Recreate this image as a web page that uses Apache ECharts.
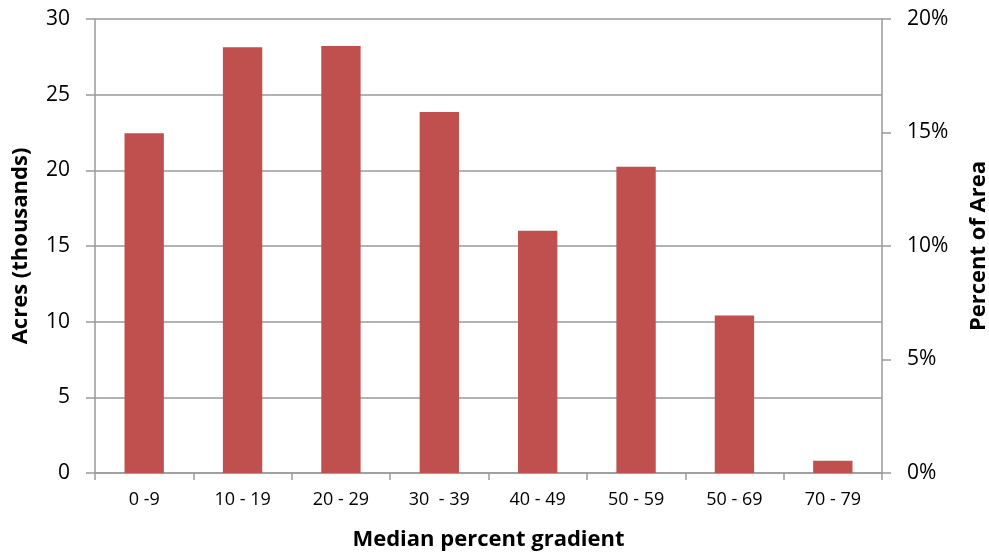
<!DOCTYPE html>
<html>
<head>
<meta charset="utf-8">
<title>Median percent gradient</title>
<script src="https://cdn.jsdelivr.net/npm/echarts@6/dist/echarts.min.js"></script>
<style>
  html, body { margin: 0; padding: 0; background: #ffffff; }
  #chart { width: 989px; height: 552px; }
</style>
</head>
<body>
<div id="chart"></div>
<script>
// Gradient classes along the x axis
const categories = ['0 -9', '10 - 19', '20 - 29', '30  - 39', '40 - 49', '50 - 59', '50 - 69', '70 - 79'];
// Acreage per gradient class, in thousands of acres
const acres = [22.45, 28.13, 28.22, 23.86, 16.0, 20.24, 10.4, 0.81];
// Left axis range (thousands of acres) and right axis range (percent of area)
const acresAxis = { min: 0, max: 30, interval: 5 };
const percentAxis = { min: 0, max: 20, interval: 5 };

const FONT = '"Open Sans", "DejaVu Sans", sans-serif';
const GREY = '#9a9a9a';
const BAR = '#C0504D';

const chart = echarts.init(document.getElementById('chart'), null, { renderer: 'canvas' });

chart.setOption({
  animation: false,
  backgroundColor: '#ffffff',
  textStyle: { fontFamily: FONT, color: '#000' },
  grid: { left: 95, right: 107, top: 19, bottom: 79, containLabel: false, outerBoundsMode: 'none' },
  xAxis: {
    type: 'category',
    data: categories,
    name: 'Median percent gradient',
    nameLocation: 'middle',
    nameGap: 56,
    nameMoveOverlap: false,
    nameTextStyle: { fontFamily: FONT, fontSize: 22, fontWeight: 'bold', color: '#000' },
    axisLine: { show: true, lineStyle: { color: GREY, width: 1.5 } },
    axisTick: { show: true, length: 7, lineStyle: { color: GREY, width: 1.5 } },
    axisLabel: { fontFamily: FONT, fontSize: 18, color: '#000', margin: 18, interval: 0 },
    splitLine: { show: false }
  },
  yAxis: [
    {
      type: 'value',
      position: 'left',
      min: acresAxis.min,
      max: acresAxis.max,
      interval: acresAxis.interval,
      name: 'Acres (thousands)',
      nameLocation: 'middle',
      nameRotate: 90,
      nameGap: 63,
      nameMoveOverlap: false,
      nameTextStyle: { fontFamily: FONT, fontSize: 22, fontWeight: 'bold', color: '#000' },
      axisLine: { show: true, lineStyle: { color: GREY, width: 1.5 } },
      axisTick: { show: true, length: 9, lineStyle: { color: GREY, width: 1.5 } },
      axisLabel: { fontFamily: FONT, fontSize: 21, color: '#000', margin: 25 },
      splitLine: { show: true, lineStyle: { color: GREY, width: 1.5 } }
    },
    {
      type: 'value',
      position: 'right',
      min: percentAxis.min,
      max: percentAxis.max,
      interval: percentAxis.interval,
      name: 'Percent of Area',
      nameLocation: 'middle',
      nameRotate: 90,
      nameGap: 86,
      nameMoveOverlap: false,
      nameTextStyle: { fontFamily: FONT, fontSize: 22, fontWeight: 'bold', color: '#000' },
      axisLine: { show: true, lineStyle: { color: GREY, width: 1.5 } },
      axisTick: { show: true, length: 9, lineStyle: { color: GREY, width: 1.5 } },
      axisLabel: { fontFamily: FONT, fontSize: 21, color: '#000', margin: 25, formatter: '{value}%' },
      splitLine: { show: false }
    }
  ],
  series: [
    {
      type: 'bar',
      yAxisIndex: 0,
      data: acres,
      barWidth: '40%',
      itemStyle: { color: BAR }
    }
  ]
});
</script>
</body>
</html>
